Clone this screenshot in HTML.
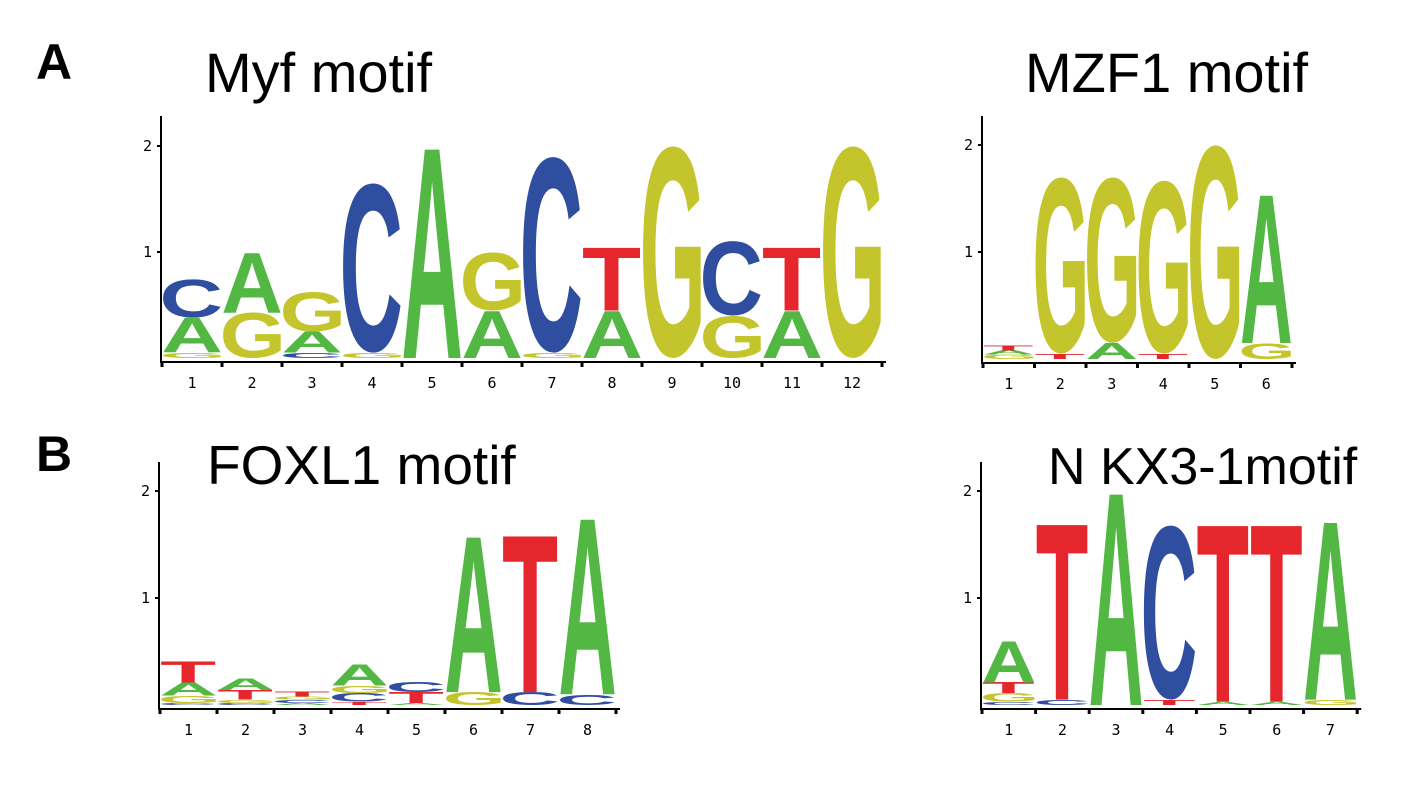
<!DOCTYPE html>
<html><head><meta charset="utf-8">
<style>
html,body{margin:0;padding:0;background:#fff;}
svg{display:block;font-family:"Liberation Sans",sans-serif;}
.t{font-size:56px;fill:#000;}
.p{font-size:50px;font-weight:bold;fill:#000;}
.tk{font-size:15px;fill:#000;font-family:"DejaVu Sans Mono","Liberation Mono",monospace;}
</style></head>
<body>
<svg id="fig" width="1417" height="788" viewBox="0 0 1417 788">
<text class="p" x="36" y="79">A</text>
<text class="p" x="36" y="471">B</text>
<text class="t" x="205" y="92">Myf motif</text>
<text class="t" x="1025" y="92">MZF1 motif</text>
<text class="t" x="207" y="484" style="font-size:55px">FOXL1 motif</text>
<text class="t" x="1048" y="484" style="font-size:52px">N KX3-1motif</text>
</svg>
<script>
// Stacks bottom-to-top: letters and heights in bits
const myfLetters=[["G","A","C"],["G","A"],["C","A","G"],["G","C"],["A"],["A","G"],["G","C"],["A","T"],["G"],["G","C"],["A","T"],["G"]];
const myfHeights=[[0.05,0.33,0.36],[0.43,0.57],[0.05,0.2,0.37],[0.05,1.6],[2.0],[0.45,0.55],[0.05,1.85],[0.45,0.6],[2.0],[0.4,0.7],[0.45,0.6],[2.0]];
const mzfLetters=[["G","A","T"],["T","G"],["A","G"],["T","G"],["G"],["G","A"]];
const mzfHeights=[[0.04,0.04,0.05],[0.05,1.65],[0.15,1.55],[0.05,1.62],[2.0],[0.15,1.4]];
const foxLetters=[["C","G","A","T"],["C","G","T","A"],["A","C","G","T"],["T","C","G","A"],["A","T","C"],["G","A"],["C","T"],["C","A"]];
const foxHeights=[[0.02,0.07,0.12,0.2],[0.02,0.03,0.09,0.11],[0.02,0.03,0.03,0.05],[0.03,0.08,0.07,0.2],[0.02,0.1,0.1],[0.12,1.47],[0.12,1.48],[0.1,1.66]];
const nkxLetters=[["C","G","T","A"],["C","T"],["A"],["T","C"],["A","T"],["A","T"],["G","A"]];
const nkxHeights=[[0.03,0.08,0.1,0.39],[0.05,1.66],[2.0],[0.05,1.63],[0.03,1.67],[0.03,1.67],[0.05,1.68]];
const yTicks=[1,2];

const COLORS={A:"#52b843",C:"#2f4ea0",G:"#c4c42c",T:"#e6262d"};
const NS="http://www.w3.org/2000/svg";
const svg=document.getElementById('fig');
const ctx=document.createElement('canvas').getContext('2d');
ctx.font='bold 100px "Liberation Sans", sans-serif';

function panel(name,letters,heights,x0,colW,y0,unit,axisTop){
  const g=document.createElementNS(NS,'g');
  
  
  svg.appendChild(g);
  const n=letters.length;
  const yS=v=>y0-v*unit;
  const xS=i=>x0+i*colW;
  const ax=document.createElementNS(NS,'path');
  ax.setAttribute('d',`M${x0-1},${axisTop} V${y0+4} H${xS(n)+4}`);
  ax.setAttribute('stroke','#000');ax.setAttribute('stroke-width','2');ax.setAttribute('fill','none');
  
  
  g.appendChild(ax);
  yTicks.forEach(v=>{
    const l=document.createElementNS(NS,'line');
    l.setAttribute('x1',x0-5);l.setAttribute('x2',x0-1);l.setAttribute('y1',yS(v));l.setAttribute('y2',yS(v));
    l.setAttribute('stroke','#000');l.setAttribute('stroke-width','2');
    
    
    g.appendChild(l);
    const t=document.createElementNS(NS,'text');
    t.setAttribute('x',x0-10);t.setAttribute('y',yS(v)+5);t.setAttribute('text-anchor','end');t.setAttribute('class','tk');
    t.textContent=v;
    
    
    g.appendChild(t);
  });
  for(let i=0;i<=n;i++){
    const l=document.createElementNS(NS,'line');
    l.setAttribute('x1',xS(i));l.setAttribute('x2',xS(i));l.setAttribute('y1',y0+3);l.setAttribute('y2',y0+9);
    l.setAttribute('stroke','#000');l.setAttribute('stroke-width','3');
    
    
    g.appendChild(l);
  }
  for(let i=0;i<n;i++){
    const t=document.createElementNS(NS,'text');
    t.setAttribute('x',xS(i)+colW/2);t.setAttribute('y',y0+30);t.setAttribute('text-anchor','middle');t.setAttribute('class','tk');
    t.textContent=i+1;
    
    
    g.appendChild(t);
    let cum=0;
    letters[i].forEach((L,k)=>{
      const h=heights[i][k];
      const yb=yS(cum), yt=yS(cum+h);
      cum+=h;
      const t2=document.createElementNS(NS,'text');
      t2.setAttribute('x',0);t2.setAttribute('y',0);
      t2.setAttribute('font-size','100');t2.setAttribute('font-weight','bold');
      t2.setAttribute('fill',COLORS[L]);
      t2.textContent=L;
      
      
      g.appendChild(t2);
      const m=ctx.measureText(L);
      let abl=m.actualBoundingBoxLeft, abr=m.actualBoundingBoxRight, asc=m.actualBoundingBoxAscent, dsc=m.actualBoundingBoxDescent;
      if(!(abr>0)){abl=-4;abr=68;asc=72;dsc=0;}
      const w=colW-2, hp=yb-yt;
      const sx=w/(abl+abr), sy=hp/(asc+dsc);
      t2.setAttribute('transform',`translate(${xS(i)+1},${yb}) scale(${sx},${sy}) translate(${abl},${-dsc})`);
    });
  }
}
panel('myf',myfLetters,myfHeights,162,60,358,106,116);
panel('mzf1',mzfLetters,mzfHeights,983,51.5,359,107,116);
panel('foxl1',foxLetters,foxHeights,160,57,705,107,462);
panel('nkx3-1',nkxLetters,nkxHeights,982,53.6,705,107,462);
</script>
</body></html>
